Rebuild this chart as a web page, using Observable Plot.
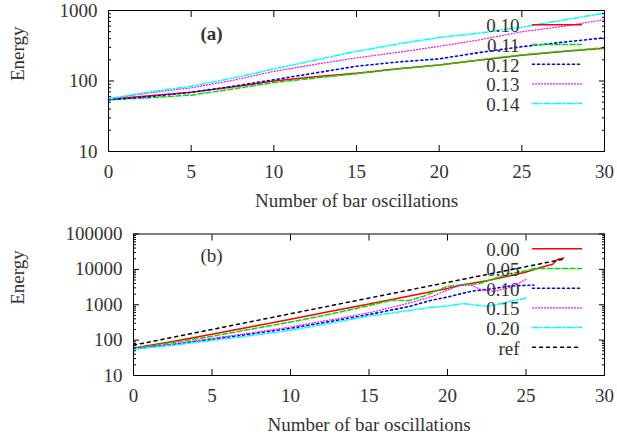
<!DOCTYPE html>
<html>
<head>
<meta charset="utf-8">
<script src="https://cdn.jsdelivr.net/npm/d3@7"></script>
<script src="https://cdn.jsdelivr.net/npm/@observablehq/plot@0.6"></script>
<style>
  html, body { margin: 0; padding: 0; background: #fff; }
  #chart { width: 617px; height: 439px; }
  #chart svg { display: block; }
</style>
</head>
<body>
<div id="chart"></div>
<script>
// ---------- tick labels ----------
const xTicks = [0, 5, 10, 15, 20, 25, 30];
const yTicksA = [10, 100, 1000];
const yTicksB = [10, 100, 1000, 10000, 100000];
const xTitle = "Number of bar oscillations";
const yTitle = "Energy";

// ---------- panel (a) ----------
const xA = [0, 2.5, 5, 7.5, 10, 12.5, 15, 17.5, 20, 22.5, 25, 27.5, 30];
const a010 = [55, 62, 69, 82, 100, 115, 129, 149, 168, 198, 232, 262, 292];
const a011 = [54, 58, 63, 77, 95, 110, 127, 148, 169, 200, 235, 265, 296];
const a012 = [54, 60, 69, 84, 104, 130, 162, 186, 206, 255, 307, 355, 410];
const a013 = [56, 68, 80, 102, 137, 172, 213, 255, 310, 385, 500, 595, 745];
const a014 = [56, 70, 84, 110, 148, 198, 264, 335, 415, 480, 580, 730, 920];
const labelsA = ["0.10", "0.11", "0.12", "0.13", "0.14"];

// ---------- panel (b) ----------
const xB000 = [0, 2.5, 5, 7.5, 10, 12.5, 15, 17.5, 20, 21, 22.5, 24, 25, 26, 26.7, 27, 27.4];
const b000  = [60, 92, 146, 240, 388, 640, 1050, 1750, 2900, 3700, 4800, 6600, 8400, 11500, 14000, 19000, 21000];
const xB005 = [0, 2.5, 5, 7.5, 10, 12.5, 15, 16.5, 17.5, 18.5, 20, 21, 22, 23, 24, 25, 25.6];
const b005  = [58, 86, 128, 205, 325, 540, 950, 1350, 1300, 1750, 3300, 3700, 3900, 5500, 7600, 9200, 10500];
const xB010 = [0, 2.5, 5, 7.5, 10, 12.5, 15, 17.5, 19, 20, 21.5, 23, 24, 25.5];
const b010  = [57, 75, 105, 150, 215, 335, 530, 880, 1350, 1650, 2400, 2900, 3400, 3600];
const xB015 = [0, 2.5, 5, 7.5, 10, 12.5, 15, 17.5, 19, 20, 20.7, 21.5, 22.2, 23, 24, 25];
const b015  = [57, 78, 112, 160, 235, 370, 590, 1100, 1700, 2600, 3500, 3600, 2600, 2400, 3100, 5200];
const xB020 = [0, 2.5, 5, 7.5, 10, 12.5, 15, 17.5, 19, 20, 21, 22.5, 23.5, 25];
const b020  = [56, 72, 98, 135, 190, 300, 480, 680, 850, 920, 1080, 900, 1100, 1550];
const xRef  = [0, 27.4];
const bRef  = [72, 19500];
const labelsB = ["0.00", "0.05", "0.10", "0.15", "0.20", "ref"];

// ---------- styles ----------
const styles = [
  {stroke: "#ff0000", dash: null, width: 1.5},
  {stroke: "#00e000", dash: "5,2.5", width: 1.5},
  {stroke: "#0000ff", dash: "2,3", width: 1.6},
  {stroke: "#ff00ff", dash: "1,2", width: 1.2},
  {stroke: "#00ffff", dash: "6,2,1.5,2", width: 1.5},
  {stroke: "#000000", dash: "3,4", width: 1.5}
];

const FONT = '"Liberation Serif", "Times New Roman", Times, serif';
const FS = 19;

const lineShape = {draw(context, l) { context.moveTo(0, 0); context.lineTo(0, -l); }};

function zip(xs, ys) { return xs.map((x, i) => ({x, y: ys[i]})); }

function panel({series, labels, yTicks, height, marginTop, marginBottom, marginLeft, tag, tagBold, tagDx, tagDy, legendDy0}) {
  const yDomain = [yTicks[0], yTicks[yTicks.length - 1]];
  const yMinor = d3.scaleLog().domain(yDomain).ticks().filter(v => !yTicks.includes(v));
  const marks = [];
  // data lines
  series.forEach((s, i) => {
    marks.push(Plot.line(s, {x: "x", y: "y", stroke: styles[i].stroke, strokeWidth: styles[i].width,
      strokeDasharray: styles[i].dash, strokeLinejoin: "round"}));
  });
  // legend
  labels.forEach((lab, i) => {
    const dy = legendDy0 + i * 19.7;
    marks.push(Plot.text([lab], {text: d => d, frameAnchor: "top-right", dx: -85, dy: dy + 1.5,
      textAnchor: "end", lineAnchor: "middle", fill: "#333", fontSize: FS}));
    marks.push(Plot.vector([0], {frameAnchor: "top-right", dx: -72, dy, anchor: "start", rotate: 90,
      length: 49, shape: lineShape, stroke: styles[i].stroke, strokeWidth: styles[i].width, strokeDasharray: styles[i].dash}));
  });
  // frame and inward ticks
  marks.push(Plot.frame({stroke: "black", strokeWidth: 1}));
  for (const anchor of ["bottom", "top"]) {
    marks.push(Plot.axisX(xTicks, {anchor, tickSize: -6, fill: "none", label: null}));
  }
  for (const anchor of ["left", "right"]) {
    marks.push(Plot.axisY(yTicks, {anchor, tickSize: -6, fill: "none", label: null}));
    marks.push(Plot.axisY(yMinor, {anchor, tickSize: -3, fill: "none", label: null}));
  }
  // tick labels
  marks.push(Plot.axisX(xTicks, {anchor: "bottom", tickSize: 0, tickPadding: 13, label: null, fill: "#333",
    tickFormat: d => String(d)}));
  marks.push(Plot.axisY(yTicks, {anchor: "left", tickSize: 0, tickPadding: 11, label: null, fill: "#333",
    tickFormat: d => String(d)}));
  // titles
  marks.push(Plot.text([xTitle], {text: d => d, frameAnchor: "bottom", dy: 49, lineAnchor: "middle", fill: "#333"}));
  marks.push(Plot.text([yTitle], {text: d => d, frameAnchor: "left", dx: -(marginLeft - 17), rotate: -90,
    lineAnchor: "middle", fill: "#333"}));
  marks.push(Plot.text([tag], {text: d => d, frameAnchor: "top-left", dx: tagDx, dy: tagDy, lineAnchor: "middle",
    fontWeight: tagBold ? "bold" : "normal", fill: "#333"}));

  return Plot.plot({
    width: 617,
    height,
    marginTop,
    marginBottom,
    marginLeft,
    marginRight: 13,
    style: {fontFamily: FONT, fontSize: FS + "px", color: "black", background: "white", overflow: "visible"},
    x: {domain: [0, 30], label: null},
    y: {type: "log", domain: yDomain, label: null},
    marks
  });
}

const svgA = panel({
  series: [zip(xA, a010), zip(xA, a011), zip(xA, a012), zip(xA, a013), zip(xA, a014)],
  labels: labelsA, yTicks: yTicksA,
  height: 220, marginTop: 10, marginBottom: 69, marginLeft: 108,
  tag: "(a)", tagBold: true, tagDx: 92, tagDy: 23, legendDy0: 14.3
});
const svgB = panel({
  series: [zip(xB000, b000), zip(xB005, b005), zip(xB010, b010), zip(xB015, b015), zip(xB020, b020), zip(xRef, bRef)],
  labels: labelsB, yTicks: yTicksB,
  height: 219, marginTop: 13.5, marginBottom: 64, marginLeft: 133,
  tag: "(b)", tagBold: false, tagDx: 67, tagDy: 22, legendDy0: 14.8
});
const chart = document.getElementById("chart");
chart.appendChild(svgA);
chart.appendChild(svgB);
</script>
</body>
</html>
